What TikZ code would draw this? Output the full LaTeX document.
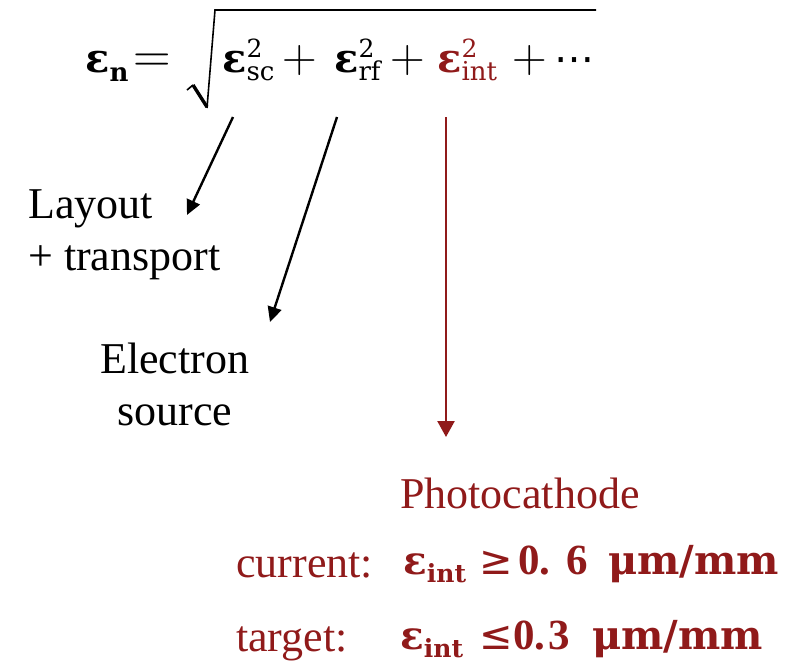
\documentclass[tikz,border=0pt]{standalone}
\usepackage{fontspec}
\setmainfont{Liberation Serif}
\newfontfamily\dvs{DejaVu Serif}
\newfontfamily\dvsans{DejaVu Sans}
\newfontfamily\lmr{Latin Modern Roman}
\usetikzlibrary{arrows.meta}
\definecolor{dred}{RGB}{144,26,26}
\newcommand\epsss[1]{{\dvs\bfseries\fontsize{40}{40}\selectfont ε}\rlap{\raisebox{15pt}{\dvs\fontsize{25}{25}\selectfont 2}}\raisebox{-8pt}{\dvs\fontsize{26}{26}\selectfont #1}}
\newcommand\epsint{{\dvs\bfseries\fontsize{39}{39}\selectfont ε}\raisebox{-8pt}{\dvs\bfseries\fontsize{25}{25}\selectfont int}}
\tikzset{
  lbl/.style={anchor=base west, inner sep=0pt, font=\fontsize{44}{44}\selectfont},
  frm/.style={anchor=base west, inner sep=0pt},
  sym/.style={anchor=base west, inner sep=0pt, font=\lmr\fontsize{#1}{#1}\selectfont},
  rel/.style={anchor=base west, inner sep=0pt, text=dred, font=\dvsans\fontsize{#1}{#1}\selectfont},
  arr/.style={line width=2.4pt, -{Triangle[length=15pt,width=14pt]}},
  rarr/.style={line width=2.4pt, dred, -{Triangle[length=16pt,width=17pt]}},
  numf/.style={anchor=base west, inner sep=0pt, text=dred, font=\dvs\bfseries\fontsize{#1}{#1}\selectfont},
  digf/.style={anchor=base west, inner sep=0pt, text=dred, font=\bfseries\fontsize{43}{43}\selectfont},
}
\begin{document}
\begin{tikzpicture}[x=1pt,y=-1pt]
\useasboundingbox (0,0) rectangle (806,662);
% formula
\node[frm] (en) at (85,72) {{\dvs\bfseries\fontsize{40}{40}\selectfont ε}\raisebox{-9pt}{\dvs\bfseries\fontsize{26}{26}\selectfont n}};
\node[sym=52] (eq) at (133,72) {=};
\draw[line width=1.6pt, line join=miter] (187,90) -- (193,85);
\draw[line width=3.4pt] (193,85) -- (207,107);
\draw[line width=1.6pt, line join=miter] (207,108) -- (215,10) -- (596,10);
\node[frm] (sc) at (222,72) {\epsss{sc}};
\node[sym=48] (p1) at (282,72) {+};
\node[frm] (rf) at (334,72) {\epsss{rf}};
\node[sym=48] (p2) at (390,72) {+};
\node[frm,text=dred] (in) at (437,72) {\epsss{int}};
\node[sym=48] (p3) at (512,72) {+};
\node[anchor=base west, inner sep=0pt, font=\dvsans\fontsize{40}{40}\selectfont] (dots) at (554,72) {⋯};
% arrows
\coordinate (a1s) at (233,117);
\coordinate (a1e) at (187,215);
\coordinate (a2s) at (337,117);
\coordinate (a2e) at (270,322);
\coordinate (a3s) at (446,117);
\coordinate (a3e) at (446,437);
\draw[arr] (a1s) -- (a1e);
\draw[arr] (a2s) -- (a2e);
\draw[rarr] (a3s) -- (a3e);
% labels
\node[lbl] (lay) at (28,218) {Layout};
\node[lbl] (tra) at (28,270) {+ transport};
\node[lbl] (ele) at (100,373) {Electron};
\node[lbl,anchor=base] (src) at (175,425) {source};
\node[lbl,text=dred] (pho) at (400,508) {Photocathode};
\node[lbl,text=dred] (cur) at (236,577) {current:};
\node[lbl,text=dred] (tar) at (236,651) {target:};
% values
\node[frm,text=dred] (e1) at (403,574) {\epsint};
\node[rel=40] (ge) at (479,574) {≥};
\node[digf] (n1a) at (518,574) {0.};
\node[digf] (n1b) at (566,574) {6};
\node[numf=40] (u1) at (608,574) {μm/mm};
\node[frm,text=dred] (e2) at (400,649) {\epsint};
\node[rel=40] (le) at (479,649) {≤};
\node[digf] (n2a) at (513,649) {0.};
\node[digf] (n2b) at (548,649) {3};
\node[numf=40] (u2) at (592,649) {μm/mm};
\end{tikzpicture}
\end{document}
